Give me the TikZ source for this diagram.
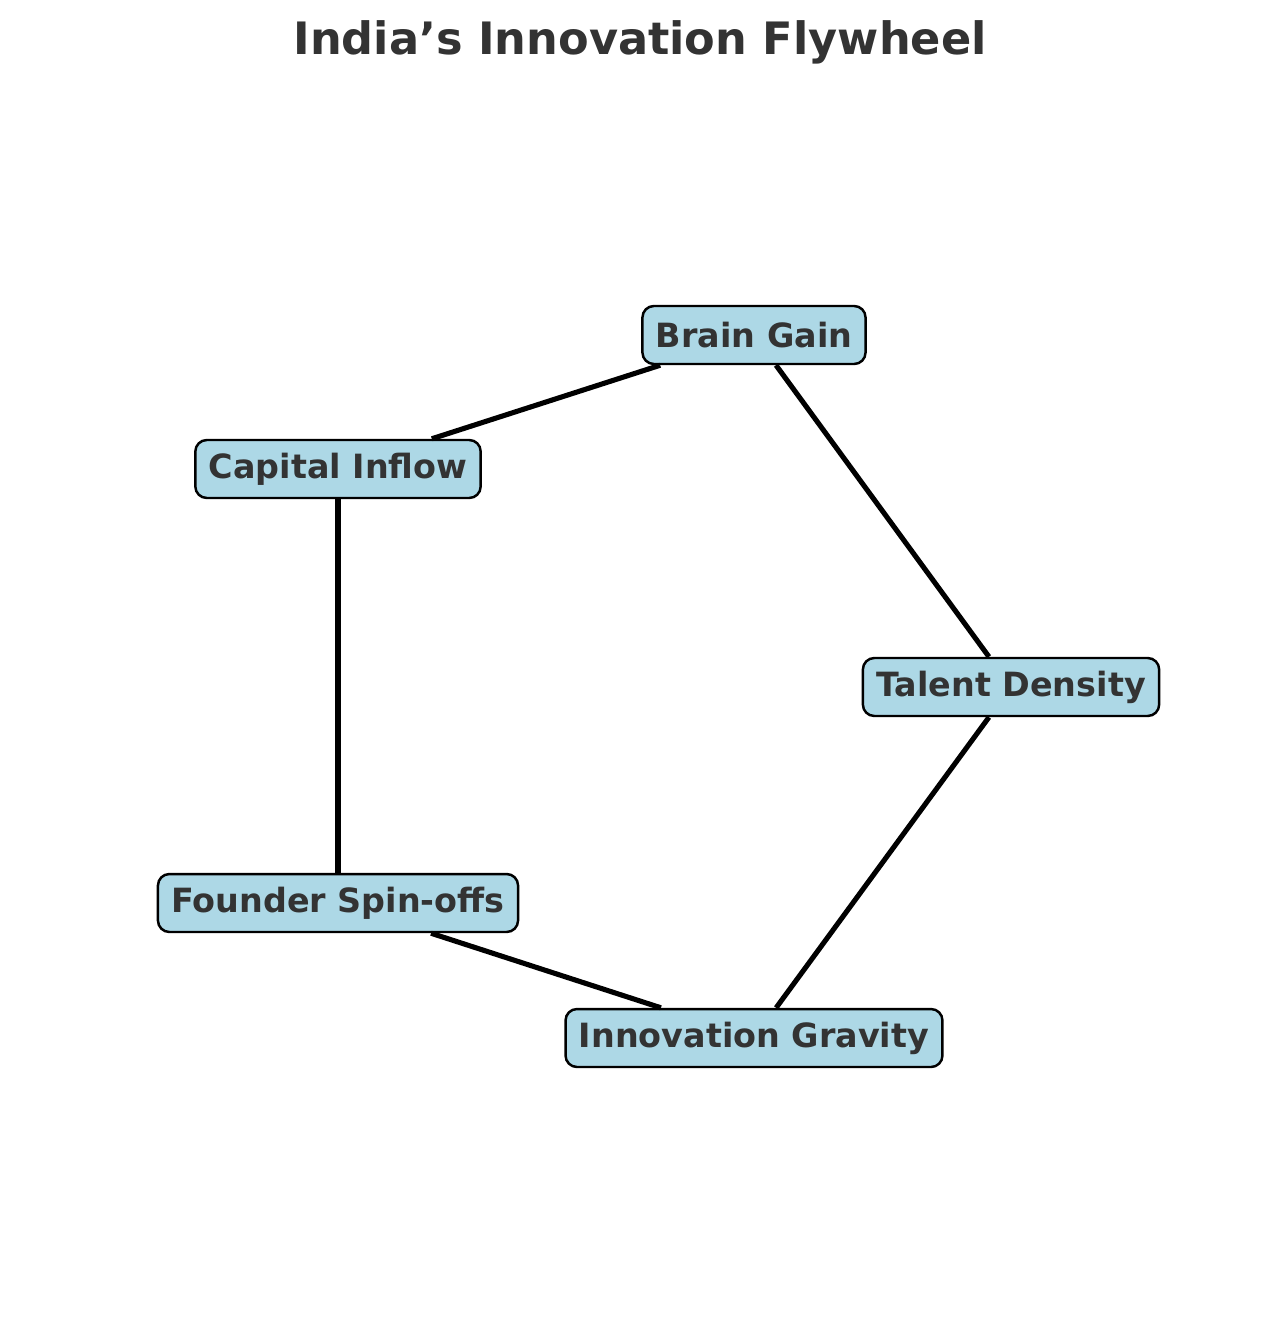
\documentclass[tikz,border=0pt]{standalone}
\usepackage{fontspec}
\setmainfont{DejaVu Sans}
\usetikzlibrary{positioning}
\usepackage{xcolor}
\definecolor{boxfill}{RGB}{173,216,230}
\definecolor{textgray}{RGB}{51,51,51}
\tikzset{
    % Stages of the flywheel
    stage/.style={
        rectangle,
        draw=black,
        line width=1.4pt,
        fill=boxfill,
        rounded corners=6.5pt,
        inner xsep=7.6pt,
        inner ysep=3pt,
        minimum height=33pt,
        align=center,
        text=textgray,
        font=\fontsize{19}{22}\selectfont\bfseries
    },
    % Links between stages
    link/.style={
        line width=2.9pt,
        draw=black
    },
    % Title
    titlelabel/.style={
        font=\fontsize{25.4}{30}\selectfont\bfseries,
        text=textgray
    }
}
\begin{document}
\begin{tikzpicture}[x=0.02cm, y=-0.02cm]

    % Canvas
    \useasboundingbox (0,0) rectangle (1280,1322);

    % Title
    \node[titlelabel] (title) at (640,42) {India’s Innovation Flywheel};

    % Stages
    \node[stage] (brain) at (754,335) {Brain Gain};
    \node[stage] (capital) at (338,469) {Capital Inflow};
    \node[stage] (talent) at (1011,687) {Talent Density};
    \node[stage] (founder) at (338,903) {Founder Spin-offs};
    \node[stage] (gravity) at (754,1038) {Innovation Gravity};

    % Links
    \draw[link] (brain) -- (talent);
    \draw[link] (talent) -- (gravity);
    \draw[link] (gravity) -- (founder);
    \draw[link] (founder) -- (capital);
    \draw[link] (capital) -- (brain);

\end{tikzpicture}
\end{document}
